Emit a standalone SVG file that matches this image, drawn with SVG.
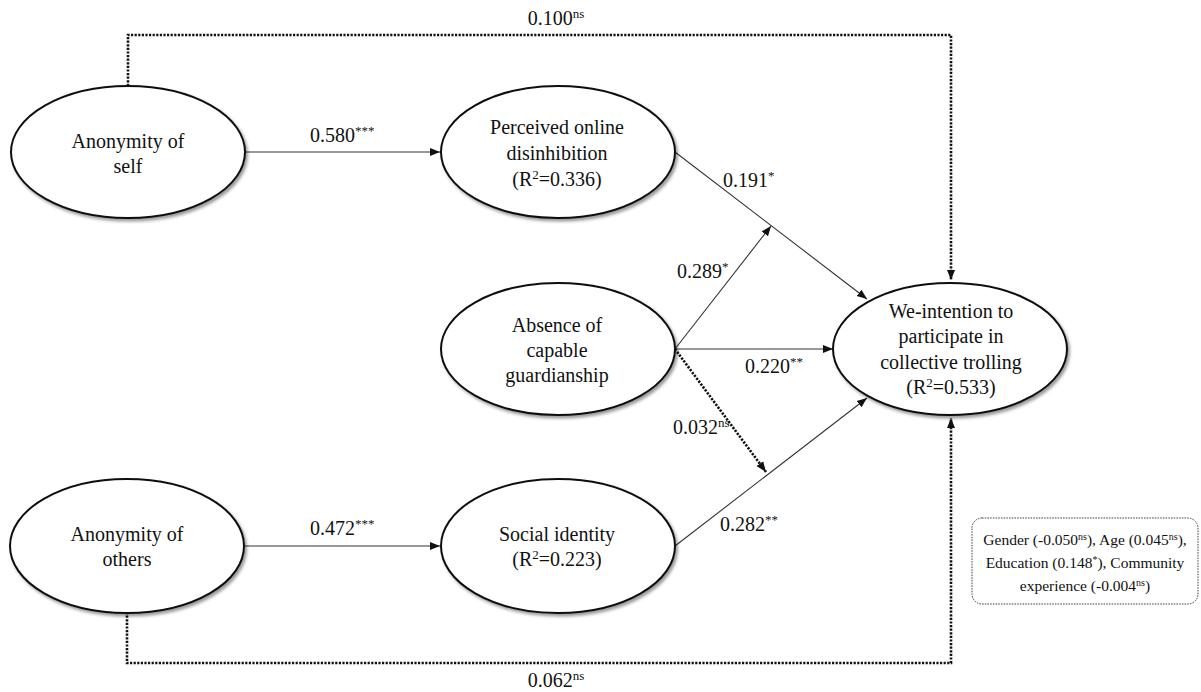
<svg xmlns="http://www.w3.org/2000/svg" width="1201" height="692" viewBox="0 0 1201 692">
<style>
  .t { font-family: "Liberation Serif", "DejaVu Serif", "Times New Roman", serif; fill: #111; }
  .n { font-size: 20px; text-anchor: middle; }
  .lbl { font-size: 20px; }
  .cov { font-size: 15.5px; text-anchor: middle; }
  .ell { fill: #fff; stroke: #111; stroke-width: 2; filter: url(#sh); }
  .solid { fill: none; stroke: #333; stroke-width: 1.1; marker-end: url(#ah); }
  .dot { fill: none; stroke: #111; stroke-width: 2.6; stroke-dasharray: 2.2 1.4; }
  .dotarr { marker-end: url(#ahd); }
  .box { fill: #fff; stroke: #444; stroke-width: 1; stroke-dasharray: 1.6 1.1; }
</style>
<defs>
  <filter id="sh" x="-10%" y="-10%" width="125%" height="130%">
    <feDropShadow dx="2" dy="2.5" stdDeviation="1.8" flood-color="#000" flood-opacity="0.4"/>
  </filter>
  <marker id="ah" viewBox="0 0 10 10" refX="10" refY="5" markerWidth="10" markerHeight="10" markerUnits="userSpaceOnUse" orient="auto">
    <path d="M0,1 L10,5 L0,9 Z" fill="#111"/>
  </marker>
  <marker id="ahd" viewBox="0 0 10 10" refX="10" refY="5" markerWidth="4" markerHeight="4" orient="auto">
    <path d="M0,1 L10,5 L0,9 Z" fill="#111"/>
  </marker>
</defs>

<g id="connectors">
  <path class="dot dotarr" d="M128,86 V35 H951 V280"/>
  <path class="dot dotarr" d="M127,612 V663 H951 V418"/>
  <line class="solid" x1="245" y1="152" x2="440" y2="152"/>
  <line class="solid" x1="245" y1="546" x2="440" y2="546"/>
  <line class="solid" x1="675" y1="152" x2="867" y2="299"/>
  <line class="solid" x1="675" y1="546" x2="867" y2="398"/>
  <line class="solid" x1="675" y1="349" x2="771" y2="226"/>
  <line class="solid" x1="675" y1="349" x2="833" y2="349"/>
  <path class="dot dotarr" d="M675,349 L766,472"/>
  <g font-family="Liberation Serif, DejaVu Serif, serif">
  <text class="t lbl" x="556" y="25" text-anchor="middle">0.100<tspan font-size="13" dy="-7">ns</tspan></text>
  <text class="t lbl" x="556" y="687" text-anchor="middle">0.062<tspan font-size="13" dy="-7">ns</tspan></text>
  <text class="t lbl" x="310" y="142">0.580<tspan font-size="13" dy="-7">***</tspan></text>
  <text class="t lbl" x="310" y="535">0.472<tspan font-size="13" dy="-7">***</tspan></text>
  <text class="t lbl" x="723" y="187">0.191<tspan font-size="13" dy="-7">*</tspan></text>
  <text class="t lbl" x="677" y="278">0.289<tspan font-size="13" dy="-7">*</tspan></text>
  <text class="t lbl" x="745" y="373">0.220<tspan font-size="13" dy="-7">**</tspan></text>
  <text class="t lbl" x="673" y="434">0.032<tspan font-size="13" dy="-7">ns</tspan></text>
  <text class="t lbl" x="720" y="531">0.282<tspan font-size="13" dy="-7">**</tspan></text>
  </g>
</g>

<g id="anonymity-self" font-family="Liberation Serif, DejaVu Serif, serif">
  <ellipse class="ell" cx="128" cy="152" rx="117" ry="66"/>
  <text class="t n" x="128" y="148">Anonymity of</text>
  <text class="t n" x="128" y="173">self</text>
</g>

<g id="perceived-disinhibition" font-family="Liberation Serif, DejaVu Serif, serif">
  <ellipse class="ell" cx="558" cy="152" rx="117" ry="66"/>
  <text class="t n" x="557" y="134">Perceived online</text>
  <text class="t n" x="557" y="160">disinhibition</text>
  <text class="t n" x="557" y="186">(R<tspan font-size="13" dy="-7">2</tspan><tspan dy="7">=0.336)</tspan></text>
</g>

<g id="absence-guardianship" font-family="Liberation Serif, DejaVu Serif, serif">
  <ellipse class="ell" cx="558" cy="349" rx="117" ry="66"/>
  <text class="t n" x="557" y="332">Absence of</text>
  <text class="t n" x="557" y="357">capable</text>
  <text class="t n" x="557" y="382">guardianship</text>
</g>

<g id="we-intention" font-family="Liberation Serif, DejaVu Serif, serif">
  <ellipse class="ell" cx="950" cy="349" rx="117" ry="66"/>
  <text class="t n" x="951" y="318">We-intention to</text>
  <text class="t n" x="951" y="343">participate in</text>
  <text class="t n" x="951" y="369">collective trolling</text>
  <text class="t n" x="951" y="394">(R<tspan font-size="13" dy="-7">2</tspan><tspan dy="7">=0.533)</tspan></text>
</g>

<g id="anonymity-others" font-family="Liberation Serif, DejaVu Serif, serif">
  <ellipse class="ell" cx="127" cy="546" rx="117" ry="67"/>
  <text class="t n" x="127" y="541">Anonymity of</text>
  <text class="t n" x="127" y="566">others</text>
</g>

<g id="social-identity" font-family="Liberation Serif, DejaVu Serif, serif">
  <ellipse class="ell" cx="558" cy="546" rx="117" ry="67"/>
  <text class="t n" x="557" y="541">Social identity</text>
  <text class="t n" x="557" y="566">(R<tspan font-size="13" dy="-7">2</tspan><tspan dy="7">=0.223)</tspan></text>
</g>

<g id="covariates" font-family="Liberation Serif, DejaVu Serif, serif">
  <rect class="box" x="972" y="518" width="226" height="86" rx="10"/>
  <text class="t cov" x="1085" y="545">Gender (-0.050<tspan font-size="10" dy="-5">ns</tspan><tspan dy="5">), Age (0.045</tspan><tspan font-size="10" dy="-5">ns</tspan><tspan dy="5">),</tspan></text>
  <text class="t cov" x="1085" y="568">Education (0.148<tspan font-size="10" dy="-5">*</tspan><tspan dy="5">), Community</tspan></text>
  <text class="t cov" x="1085" y="591">experience (-0.004<tspan font-size="10" dy="-5">ns</tspan><tspan dy="5">)</tspan></text>
</g>
</svg>
